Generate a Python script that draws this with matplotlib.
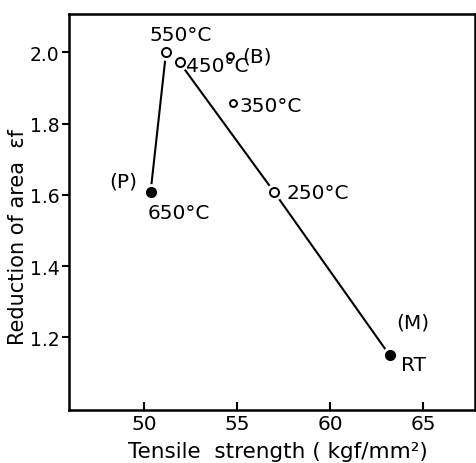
import matplotlib
matplotlib.use("Agg")
import matplotlib.pyplot as plt

# data
open_labels = ["550°C", "450°C", "(B)", "350°C", "250°C"]
open_x = [51.17, 51.9, 54.6, 54.77, 56.99]
open_y = [2.0, 1.972, 1.99, 1.857, 1.608]
filled_labels = ["650°C", "RT"]
filled_x = [50.34, 63.2]
filled_y = [1.608, 1.15]
line_p_x = [50.34, 51.17]
line_p_y = [1.608, 2.0]
line_m_x = [51.9, 56.99, 63.2]
line_m_y = [1.972, 1.608, 1.15]
xticks = [50, 55, 60, 65]
yticks = [1.2, 1.4, 1.6, 1.8, 2.0]

plt.rcParams['font.family'] = ['DejaVu Sans']
fig = plt.figure(figsize=(4.77, 4.64), dpi=100)
ax = fig.add_axes([0.1447, 0.1142, 0.8511, 0.8535])

ax.plot(line_p_x, line_p_y, color='black', lw=1.5, zorder=1)
ax.plot(line_m_x, line_m_y, color='black', lw=1.5, zorder=1)
# white halos for gaps
ax.plot(open_x, open_y, 'o', ms=11, color='white', mec='white', zorder=2)
ax.plot(filled_x, filled_y, 'o', ms=11, color='white', mec='white', zorder=2)
sizes = [6.5, 6.5, 5.0, 5.0, 6.5]
for x, y, s in zip(open_x, open_y, sizes):
    ax.plot([x], [y], 'o', ms=s, mfc='white', mec='black', mew=1.4, zorder=3)
ax.plot(filled_x, filled_y, 'o', ms=7, color='black', zorder=3)

fs = 14.5
ax.text(51.95, 2.051, "550°C", fontsize=fs, ha='center', va='center')
ax.text(52.27, 1.962, "450°C", fontsize=fs, ha='left', va='center')
ax.text(56.09, 1.99, "(B)", fontsize=fs, ha='center', va='center')
ax.text(55.14, 1.852, "350°C", fontsize=fs, ha='left', va='center')
ax.text(57.68, 1.608, "250°C", fontsize=fs, ha='left', va='center')
ax.text(48.86, 1.639, "(P)", fontsize=fs, ha='center', va='center')
ax.text(51.84, 1.551, "650°C", fontsize=fs, ha='center', va='center')
ax.text(64.47, 1.243, "(M)", fontsize=fs, ha='center', va='center')
ax.text(63.84, 1.125, "RT", fontsize=fs, ha='left', va='center')

ax.set_xlim(45.95, 67.8)
ax.set_ylim(0.996, 2.108)
ax.set_xticks(xticks)
ax.set_xticklabels([str(v) for v in xticks])
ax.set_yticks(yticks)
ax.set_yticklabels([f"{v:.1f}" for v in yticks])
ax.tick_params(axis='x', direction='in', length=6, width=1.5, labelsize=14.5, pad=3)
ax.tick_params(axis='y', direction='out', length=5, width=1.5, labelsize=13.5, pad=2)
for sp in ax.spines.values():
    sp.set_linewidth(1.8)
ax.set_xlabel("Tensile  strength ( kgf/mm²)", fontsize=15.5)
ax.set_ylabel("Reduction of area  εf", fontsize=15)
ax.xaxis.set_label_coords(0.515, -0.103)
ax.yaxis.set_label_coords(-0.126, 0.438)
ax.xaxis.label.set_va('center')
ax.yaxis.label.set_va('center')

fig.savefig("out.png", dpi=100)
